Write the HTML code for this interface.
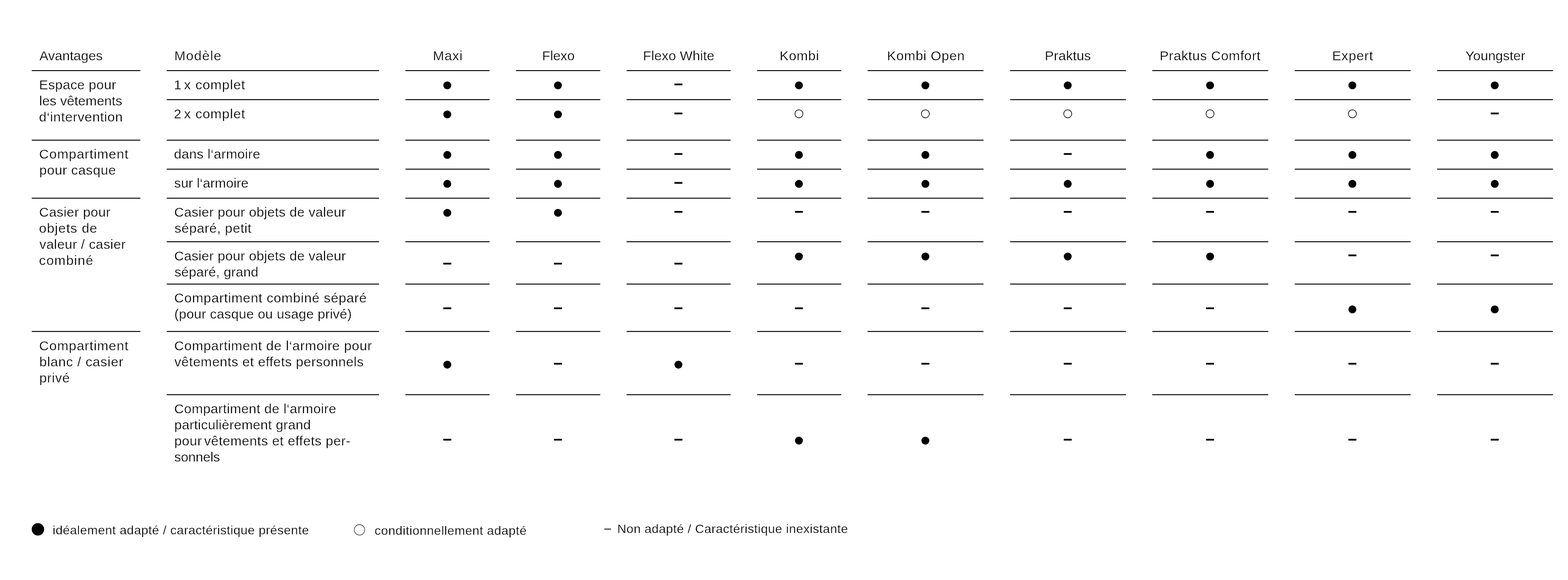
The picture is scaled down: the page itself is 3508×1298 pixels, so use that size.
<!DOCTYPE html>
<html lang="fr">
<head>
<meta charset="utf-8">
<title>Avantages / Modèle</title>
<style>
html,body{margin:0;padding:0;background:#fff;}
body{width:3508px;height:1298px;position:relative;overflow:hidden;color:#000;font-family:"Liberation Sans",sans-serif;font-size:30px;line-height:36px;}
.g{position:absolute;left:0;top:0;display:block;}
.t,.lg{position:absolute;white-space:nowrap;height:36px;-webkit-text-stroke:0.35px #fff;}
.lg{font-size:28px;-webkit-text-stroke-width:0.3px;}
.n{margin-left:-4.3px;}
</style>
</head>
<body>
<div class="col1">
<div class="t" style="left:88.37px;top:107px;letter-spacing:0.007px;">Avantages</div>
<div class="t" style="left:87.61px;top:172px;letter-spacing:0.361px;">Espace pour</div>
<div class="t" style="left:87.8px;top:208px;letter-spacing:0.051px;">les vêtements</div>
<div class="t" style="left:87.32px;top:244px;letter-spacing:0.662px;">d‘intervention</div>
<div class="t" style="left:87.6px;top:327px;letter-spacing:1.008px;">Compartiment</div>
<div class="t" style="left:87.89px;top:363px;letter-spacing:0.619px;">pour casque</div>
<div class="t" style="left:87.6px;top:457px;letter-spacing:0.439px;">Casier pour</div>
<div class="t" style="left:87.37px;top:493px;letter-spacing:1.022px;">objets de</div>
<div class="t" style="left:88.32px;top:529px;letter-spacing:0.429px;">valeur / casier</div>
<div class="t" style="left:87.35px;top:565px;letter-spacing:1.292px;">combiné</div>
<div class="t" style="left:87.6px;top:756px;letter-spacing:1.008px;">Compartiment</div>
<div class="t" style="left:87.89px;top:792px;letter-spacing:0.849px;">blanc / casier</div>
<div class="t" style="left:87.89px;top:828px;letter-spacing:0.771px;">privé</div>
</div>
<div class="col2">
<div class="t" style="left:389.96px;top:107px;letter-spacing:1.308px;">Modèle</div>
<div class="t" style="left:389.04px;top:172px;letter-spacing:1.005px;">1<span class="n"> </span>x complet</div>
<div class="t" style="left:389.12px;top:237px;letter-spacing:0.997px;">2<span class="n"> </span>x complet</div>
<div class="t" style="left:389.17px;top:327px;letter-spacing:0.348px;">dans l‘armoire</div>
<div class="t" style="left:389.79px;top:392px;letter-spacing:0.099px;">sur l‘armoire</div>
<div class="t" style="left:389.7px;top:457px;letter-spacing:0.332px;">Casier pour objets de valeur</div>
<div class="t" style="left:390.39px;top:493px;letter-spacing:0.575px;">séparé, petit</div>
<div class="t" style="left:389.7px;top:555px;letter-spacing:0.332px;">Casier pour objets de valeur</div>
<div class="t" style="left:390.39px;top:591px;letter-spacing:0.206px;">séparé, grand</div>
<div class="t" style="left:389.8px;top:649px;letter-spacing:0.774px;">Compartiment combiné séparé</div>
<div class="t" style="left:389.96px;top:685px;letter-spacing:0.253px;">(pour casque ou usage privé)</div>
<div class="t" style="left:389.8px;top:756px;letter-spacing:0.698px;">Compartiment de l‘armoire pour</div>
<div class="t" style="left:390.32px;top:792px;letter-spacing:0.524px;">vêtements et effets personnels</div>
<div class="t" style="left:389.8px;top:897px;letter-spacing:0.369px;">Compartiment de l‘armoire</div>
<div class="t" style="left:389.89px;top:933px;letter-spacing:0.320px;">particulièrement grand</div>
<div class="t" style="left:389.89px;top:969px;letter-spacing:0.540px;">pour<span class="n"> </span>vêtements et effets per-</div>
<div class="t" style="left:389.99px;top:1005px;letter-spacing:-0.173px;">sonnels</div>
</div>
<div class="heads">
<div class="t" style="left:968.46px;top:107px;letter-spacing:0.996px;">Maxi</div>
<div class="t" style="left:1212.76px;top:107px;letter-spacing:-0.122px;">Flexo</div>
<div class="t" style="left:1438.46px;top:107px;letter-spacing:0.145px;">Flexo White</div>
<div class="t" style="left:1744.26px;top:107px;letter-spacing:0.696px;">Kombi</div>
<div class="t" style="left:1984.46px;top:107px;letter-spacing:0.755px;">Kombi Open</div>
<div class="t" style="left:2337.56px;top:107px;letter-spacing:0.229px;">Praktus</div>
<div class="t" style="left:2594.46px;top:107px;letter-spacing:0.621px;">Praktus Comfort</div>
<div class="t" style="left:2980.46px;top:107px;letter-spacing:0.862px;">Expert</div>
<div class="t" style="left:3278.57px;top:107px;letter-spacing:-0.014px;">Youngster</div>
</div>
<svg class="g" width="3508" height="1298" viewBox="0 0 3508 1298" fill="#000">
<rect x="71" y="156.95" width="243" height="2.1"/>
<rect x="71" y="312.65" width="243" height="2.1"/>
<rect x="71" y="442.55" width="243" height="2.1"/>
<rect x="71" y="740.75" width="243" height="2.1"/>
<rect x="373" y="156.95" width="475" height="2.1"/>
<rect x="373" y="221.95" width="475" height="2.1"/>
<rect x="373" y="312.65" width="475" height="2.1"/>
<rect x="373" y="377.55" width="475" height="2.1"/>
<rect x="373" y="442.55" width="475" height="2.1"/>
<rect x="373" y="539.95" width="475" height="2.1"/>
<rect x="373" y="634.65" width="475" height="2.1"/>
<rect x="373" y="740.75" width="475" height="2.1"/>
<rect x="373" y="882.25" width="475" height="2.1"/>
<rect x="907" y="156.95" width="188.4" height="2.1"/>
<rect x="907" y="221.95" width="188.4" height="2.1"/>
<rect x="907" y="312.65" width="188.4" height="2.1"/>
<rect x="907" y="377.55" width="188.4" height="2.1"/>
<rect x="907" y="442.55" width="188.4" height="2.1"/>
<rect x="907" y="539.95" width="188.4" height="2.1"/>
<rect x="907" y="634.65" width="188.4" height="2.1"/>
<rect x="907" y="740.75" width="188.4" height="2.1"/>
<rect x="907" y="882.25" width="188.4" height="2.1"/>
<rect x="1154.4" y="156.95" width="188.5" height="2.1"/>
<rect x="1154.4" y="221.95" width="188.5" height="2.1"/>
<rect x="1154.4" y="312.65" width="188.5" height="2.1"/>
<rect x="1154.4" y="377.55" width="188.5" height="2.1"/>
<rect x="1154.4" y="442.55" width="188.5" height="2.1"/>
<rect x="1154.4" y="539.95" width="188.5" height="2.1"/>
<rect x="1154.4" y="634.65" width="188.5" height="2.1"/>
<rect x="1154.4" y="740.75" width="188.5" height="2.1"/>
<rect x="1154.4" y="882.25" width="188.5" height="2.1"/>
<rect x="1401.8" y="156.95" width="232.8" height="2.1"/>
<rect x="1401.8" y="221.95" width="232.8" height="2.1"/>
<rect x="1401.8" y="312.65" width="232.8" height="2.1"/>
<rect x="1401.8" y="377.55" width="232.8" height="2.1"/>
<rect x="1401.8" y="442.55" width="232.8" height="2.1"/>
<rect x="1401.8" y="539.95" width="232.8" height="2.1"/>
<rect x="1401.8" y="634.65" width="232.8" height="2.1"/>
<rect x="1401.8" y="740.75" width="232.8" height="2.1"/>
<rect x="1401.8" y="882.25" width="232.8" height="2.1"/>
<rect x="1693.8" y="156.95" width="188.2" height="2.1"/>
<rect x="1693.8" y="221.95" width="188.2" height="2.1"/>
<rect x="1693.8" y="312.65" width="188.2" height="2.1"/>
<rect x="1693.8" y="377.55" width="188.2" height="2.1"/>
<rect x="1693.8" y="442.55" width="188.2" height="2.1"/>
<rect x="1693.8" y="539.95" width="188.2" height="2.1"/>
<rect x="1693.8" y="634.65" width="188.2" height="2.1"/>
<rect x="1693.8" y="740.75" width="188.2" height="2.1"/>
<rect x="1693.8" y="882.25" width="188.2" height="2.1"/>
<rect x="1941" y="156.95" width="259.4" height="2.1"/>
<rect x="1941" y="221.95" width="259.4" height="2.1"/>
<rect x="1941" y="312.65" width="259.4" height="2.1"/>
<rect x="1941" y="377.55" width="259.4" height="2.1"/>
<rect x="1941" y="442.55" width="259.4" height="2.1"/>
<rect x="1941" y="539.95" width="259.4" height="2.1"/>
<rect x="1941" y="634.65" width="259.4" height="2.1"/>
<rect x="1941" y="740.75" width="259.4" height="2.1"/>
<rect x="1941" y="882.25" width="259.4" height="2.1"/>
<rect x="2259.8" y="156.95" width="259.2" height="2.1"/>
<rect x="2259.8" y="221.95" width="259.2" height="2.1"/>
<rect x="2259.8" y="312.65" width="259.2" height="2.1"/>
<rect x="2259.8" y="377.55" width="259.2" height="2.1"/>
<rect x="2259.8" y="442.55" width="259.2" height="2.1"/>
<rect x="2259.8" y="539.95" width="259.2" height="2.1"/>
<rect x="2259.8" y="634.65" width="259.2" height="2.1"/>
<rect x="2259.8" y="740.75" width="259.2" height="2.1"/>
<rect x="2259.8" y="882.25" width="259.2" height="2.1"/>
<rect x="2578" y="156.95" width="259.4" height="2.1"/>
<rect x="2578" y="221.95" width="259.4" height="2.1"/>
<rect x="2578" y="312.65" width="259.4" height="2.1"/>
<rect x="2578" y="377.55" width="259.4" height="2.1"/>
<rect x="2578" y="442.55" width="259.4" height="2.1"/>
<rect x="2578" y="539.95" width="259.4" height="2.1"/>
<rect x="2578" y="634.65" width="259.4" height="2.1"/>
<rect x="2578" y="740.75" width="259.4" height="2.1"/>
<rect x="2578" y="882.25" width="259.4" height="2.1"/>
<rect x="2896.7" y="156.95" width="259.2" height="2.1"/>
<rect x="2896.7" y="221.95" width="259.2" height="2.1"/>
<rect x="2896.7" y="312.65" width="259.2" height="2.1"/>
<rect x="2896.7" y="377.55" width="259.2" height="2.1"/>
<rect x="2896.7" y="442.55" width="259.2" height="2.1"/>
<rect x="2896.7" y="539.95" width="259.2" height="2.1"/>
<rect x="2896.7" y="634.65" width="259.2" height="2.1"/>
<rect x="2896.7" y="740.75" width="259.2" height="2.1"/>
<rect x="2896.7" y="882.25" width="259.2" height="2.1"/>
<rect x="3215.1" y="156.95" width="259.2" height="2.1"/>
<rect x="3215.1" y="221.95" width="259.2" height="2.1"/>
<rect x="3215.1" y="312.65" width="259.2" height="2.1"/>
<rect x="3215.1" y="377.55" width="259.2" height="2.1"/>
<rect x="3215.1" y="442.55" width="259.2" height="2.1"/>
<rect x="3215.1" y="539.95" width="259.2" height="2.1"/>
<rect x="3215.1" y="634.65" width="259.2" height="2.1"/>
<rect x="3215.1" y="740.75" width="259.2" height="2.1"/>
<rect x="3215.1" y="882.25" width="259.2" height="2.1"/>
<circle cx="1000.7" cy="191" r="8.85"/>
<circle cx="1248.3" cy="191" r="8.85"/>
<rect x="1508.9" y="187" width="17.8" height="3.9"/>
<circle cx="1787.4" cy="191" r="8.85"/>
<circle cx="2070.3" cy="191" r="8.85"/>
<circle cx="2388.8" cy="191" r="8.85"/>
<circle cx="2707.2" cy="191" r="8.85"/>
<circle cx="3025.6" cy="191" r="8.85"/>
<circle cx="3344.1" cy="191" r="8.85"/>
<circle cx="1000.7" cy="256" r="8.85"/>
<circle cx="1248.3" cy="256" r="8.85"/>
<rect x="1508.9" y="251.95" width="17.8" height="3.9"/>
<circle cx="1787.4" cy="254.7" r="8.975" fill="none" stroke="#000" stroke-width="1.45"/>
<circle cx="2070.3" cy="254.7" r="8.975" fill="none" stroke="#000" stroke-width="1.45"/>
<circle cx="2388.8" cy="254.7" r="8.975" fill="none" stroke="#000" stroke-width="1.45"/>
<circle cx="2707.2" cy="254.7" r="8.975" fill="none" stroke="#000" stroke-width="1.45"/>
<circle cx="3025.6" cy="254.7" r="8.975" fill="none" stroke="#000" stroke-width="1.45"/>
<rect x="3335.2" y="251.95" width="17.8" height="3.9"/>
<circle cx="1000.7" cy="346.7" r="8.85"/>
<circle cx="1248.3" cy="346.7" r="8.85"/>
<rect x="1508.9" y="342.65" width="17.8" height="3.9"/>
<circle cx="1787.4" cy="346.7" r="8.85"/>
<circle cx="2070.3" cy="346.7" r="8.85"/>
<rect x="2379.9" y="342.65" width="17.8" height="3.9"/>
<circle cx="2707.2" cy="346.7" r="8.85"/>
<circle cx="3025.6" cy="346.7" r="8.85"/>
<circle cx="3344.1" cy="346.7" r="8.85"/>
<circle cx="1000.7" cy="411.4" r="8.85"/>
<circle cx="1248.3" cy="411.4" r="8.85"/>
<rect x="1508.9" y="407.35" width="17.8" height="3.9"/>
<circle cx="1787.4" cy="411.4" r="8.85"/>
<circle cx="2070.3" cy="411.4" r="8.85"/>
<circle cx="2388.8" cy="411.4" r="8.85"/>
<circle cx="2707.2" cy="411.4" r="8.85"/>
<circle cx="3025.6" cy="411.4" r="8.85"/>
<circle cx="3344.1" cy="411.4" r="8.85"/>
<circle cx="1000.7" cy="476.25" r="8.85"/>
<circle cx="1248.3" cy="476.25" r="8.85"/>
<rect x="1508.9" y="472.2" width="17.8" height="3.9"/>
<rect x="1778.5" y="472.2" width="17.8" height="3.9"/>
<rect x="2061.4" y="472.2" width="17.8" height="3.9"/>
<rect x="2379.9" y="472.2" width="17.8" height="3.9"/>
<rect x="2698.3" y="472.2" width="17.8" height="3.9"/>
<rect x="3016.7" y="472.2" width="17.8" height="3.9"/>
<rect x="3335.2" y="472.2" width="17.8" height="3.9"/>
<rect x="991.8" y="588.05" width="17.8" height="3.9"/>
<rect x="1239.4" y="588.05" width="17.8" height="3.9"/>
<rect x="1508.9" y="588.05" width="17.8" height="3.9"/>
<circle cx="1787.4" cy="574.06" r="8.85"/>
<circle cx="2070.3" cy="574.06" r="8.85"/>
<circle cx="2388.8" cy="574.06" r="8.85"/>
<circle cx="2707.2" cy="574.06" r="8.85"/>
<rect x="3016.7" y="569.55" width="17.8" height="3.9"/>
<rect x="3335.2" y="569.55" width="17.8" height="3.9"/>
<rect x="991.8" y="687.95" width="17.8" height="3.9"/>
<rect x="1239.4" y="687.95" width="17.8" height="3.9"/>
<rect x="1508.9" y="687.95" width="17.8" height="3.9"/>
<rect x="1778.5" y="687.95" width="17.8" height="3.9"/>
<rect x="2061.4" y="687.95" width="17.8" height="3.9"/>
<rect x="2379.9" y="687.95" width="17.8" height="3.9"/>
<rect x="2698.3" y="687.95" width="17.8" height="3.9"/>
<circle cx="3025.6" cy="692.4" r="8.85"/>
<circle cx="3344.1" cy="692.4" r="8.85"/>
<circle cx="1000.7" cy="816.1" r="8.85"/>
<rect x="1239.4" y="812.05" width="17.8" height="3.9"/>
<circle cx="1517.8" cy="816.1" r="8.85"/>
<rect x="1778.5" y="812.05" width="17.8" height="3.9"/>
<rect x="2061.4" y="812.05" width="17.8" height="3.9"/>
<rect x="2379.9" y="812.05" width="17.8" height="3.9"/>
<rect x="2698.3" y="812.05" width="17.8" height="3.9"/>
<rect x="3016.7" y="812.05" width="17.8" height="3.9"/>
<rect x="3335.2" y="812.05" width="17.8" height="3.9"/>
<rect x="991.8" y="982.05" width="17.8" height="3.9"/>
<rect x="1239.4" y="982.05" width="17.8" height="3.9"/>
<rect x="1508.9" y="982.05" width="17.8" height="3.9"/>
<circle cx="1787.4" cy="986.1" r="8.85"/>
<circle cx="2070.3" cy="986.1" r="8.85"/>
<rect x="2379.9" y="982.05" width="17.8" height="3.9"/>
<rect x="2698.3" y="982.05" width="17.8" height="3.9"/>
<rect x="3016.7" y="982.05" width="17.8" height="3.9"/>
<rect x="3335.2" y="982.05" width="17.8" height="3.9"/>
<circle cx="84.8" cy="1184.6" r="13.9"/>
<circle cx="804.3" cy="1185.8" r="11.7" fill="none" stroke="#000" stroke-width="1.05"/>
</svg>
<div class="legend">
<div class="lg" style="left:117.73px;top:1169px;letter-spacing:0.482px;">idéalement adapté / caractéristique présente</div>
<div class="lg" style="left:838.06px;top:1170px;letter-spacing:0.542px;">conditionnellement adapté</div>
<div class="lg" style="left:1351.9px;top:1164px;font-size:27px;-webkit-text-stroke:0">–</div>
<div class="lg" style="left:1380.95px;top:1166px;letter-spacing:0.461px;">Non adapté / Caractéristique inexistante</div>
</div>
</body>
</html>
